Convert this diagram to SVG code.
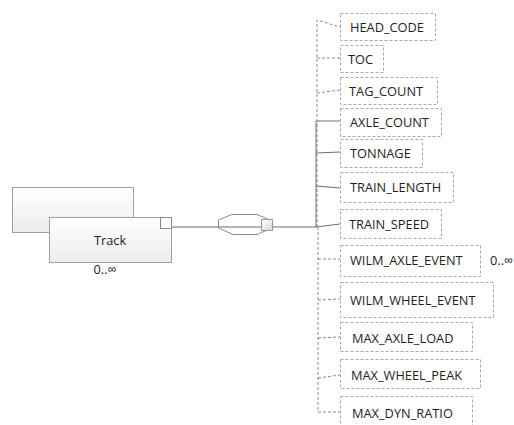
<svg xmlns="http://www.w3.org/2000/svg" width="514" height="425" viewBox="0 0 514 425">
<defs>
<linearGradient id="g" x1="0" y1="0" x2="0" y2="1">
<stop offset="0" stop-color="#ffffff"/>
<stop offset="1" stop-color="#ececec"/>
</linearGradient>
<linearGradient id="g2" x1="0" y1="0" x2="1" y2="1">
<stop offset="0" stop-color="#ffffff"/>
<stop offset="1" stop-color="#d8d8d8"/>
</linearGradient>
</defs>
<style>
text{font-family:"Open Sans","Noto Sans","DejaVu Sans",sans-serif;font-size:12.8px;fill:#1e1e1e;dominant-baseline:central}
.el{fill:#ffffff;stroke:#a8a8a8;stroke-width:1;stroke-dasharray:3 2}
.c{fill:none;stroke:#6e6e6e;stroke-width:1}
.d{fill:none;stroke:#8a8a8a;stroke-width:1;stroke-dasharray:3 2}
.tb{fill:url(#g);stroke:#a0a0a0;stroke-width:1}
</style>
<rect width="514" height="425" fill="#ffffff"/>
<g id="connectors">
<line class="c" x1="171" y1="227" x2="316" y2="227"/>
<polyline class="d" points="317,227 317,20 340,27"/>
<polyline class="d" points="317,58 340,58"/>
<polyline class="d" points="317,93 340,90"/>
<polyline class="c" points="316,227 316,121 340,121"/>
<polyline class="c" points="316,153 340,152"/>
<polyline class="c" points="316,186 340,188"/>
<polyline class="c" points="316,227 340,224"/>
<polyline class="d" points="318,227 318,412 340,412"/>
<polyline class="d" points="318,259 340,259"/>
<polyline class="d" points="318,300 340,299"/>
<polyline class="d" points="318,338 340,337"/>
<polyline class="d" points="318,378 340,375"/>
</g>
<g id="track">
<rect class="tb" x="12.5" y="187.5" width="121" height="45"/>
<rect class="tb" x="49.5" y="217.5" width="122" height="45"/>
<rect x="160.5" y="217.5" width="11" height="11" fill="#ffffff" stroke="#8a8a8a"/>
<text x="110" y="240" text-anchor="middle">Track</text>
<text x="105" y="269" text-anchor="middle">0..∞</text>
</g>
<g id="sequence">
<polygon points="232,214.5 257,214.5 272,221 272,228 257,234.5 233,234.5 218.5,228 218.5,220" fill="#ffffff" stroke="#8a8a8a"/>
<line class="c" x1="218.5" y1="227" x2="272" y2="227"/>
<rect x="261.5" y="219.5" width="11" height="11" fill="url(#g2)" stroke="#9a9a9a"/>
</g>
<g id="HEAD_CODE"><rect class="el" x="340.5" y="13.5" width="95" height="27"/><text x="350" y="27">HEAD_CODE</text></g>
<g id="TOC"><rect class="el" x="340.5" y="45.5" width="43" height="27"/><text x="348" y="59">TOC</text></g>
<g id="TAG_COUNT"><rect class="el" x="340.5" y="77.5" width="97" height="27"/><text x="349" y="91">TAG_COUNT</text></g>
<g id="AXLE_COUNT"><rect class="el" x="340.5" y="108.5" width="101" height="28"/><text x="350" y="122">AXLE_COUNT</text></g>
<g id="TONNAGE"><rect class="el" x="340.5" y="139.5" width="82" height="28"/><text x="350" y="153">TONNAGE</text></g>
<g id="TRAIN_LENGTH"><rect class="el" x="340.5" y="172.5" width="113" height="30"/><text x="350" y="187">TRAIN_LENGTH</text></g>
<g id="TRAIN_SPEED"><rect class="el" x="340.5" y="209.5" width="101" height="29"/><text x="349" y="224">TRAIN_SPEED</text></g>
<g id="WILM_AXLE_EVENT"><rect class="el" x="340.5" y="245.5" width="140" height="31"/><text x="350" y="260">WILM_AXLE_EVENT</text><text x="490" y="260">0..∞</text></g>
<g id="WILM_WHEEL_EVENT"><rect class="el" x="340.5" y="282.5" width="153" height="35"/><text x="350" y="300">WILM_WHEEL_EVENT</text></g>
<g id="MAX_AXLE_LOAD"><rect class="el" x="340.5" y="322.5" width="132" height="29"/><text x="352" y="338">MAX_AXLE_LOAD</text></g>
<g id="MAX_WHEEL_PEAK"><rect class="el" x="340.5" y="359.5" width="140" height="29"/><text x="351" y="375">MAX_WHEEL_PEAK</text></g>
<g id="MAX_DYN_RATIO"><rect class="el" x="340.5" y="396.5" width="132" height="34"/><text x="352" y="413">MAX_DYN_RATIO</text></g>
</svg>
